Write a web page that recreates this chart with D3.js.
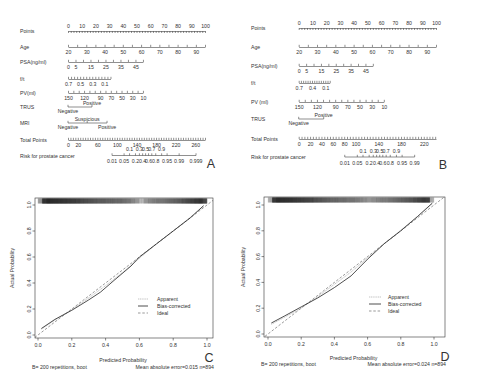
<!DOCTYPE html>
<html><head><meta charset="utf-8">
<script src="https://cdn.jsdelivr.net/npm/d3@7"></script>
<style>
body{margin:0;background:#fff}
svg{display:block}
text{font-family:"Liberation Sans",Arial,sans-serif;fill:#333}
</style>
</head><body>
<svg id="chart" width="492" height="378"></svg>
<script>
// ================= DATA =================
const pointsTicks = [0,2,4,6,8,10,12,14,16,18,20,22,24,26,28,30,32,34,36,38,40,42,44,46,48,50,52,54,56,58,60,62,64,66,68,70,72,74,76,78,80,82,84,86,88,90,92,94,96,98,100];
const pointsLabels = [0,10,20,30,40,50,60,70,80,90,100];
const ageTicks = [20,25,30,35,40,45,50,55,60,65,70,75,80,85,90,95];
const ageLabels = [20,30,40,50,60,70,80,90];
const psaTicks = [0,5,10,15,20,25,30,35,40,45,50];
const psaLabels = [0,5,15,25,35,45];
const frTicks = [0.7,0.65,0.6,0.55,0.5,0.45,0.4,0.35,0.3,0.25,0.2,0.15,0.1,0.05,0];
const frLabelsA = [0.7,0.5,0.3,0.1];
const frLabelsB = [0.7,0.4,0.1];
const pvTicks = [150,140,130,120,110,100,90,80,70,60,50,40,30,20,10];
const pvLabels = [150,120,90,70,50,30,10];
const trusCats = ["Negative","Positive"];
const mriCats = ["Negative","Suspicious","Positive"];
const totalTicksA = d3.range(0, 281, 5);
const totalLabelsA = [0,20,60,100,140,180,220,260];
const totalTicksB = d3.range(0, 241, 5);
const totalLabelsB = [0,20,40,60,80,100,140,180,220];
const riskBelowA = [0.01,0.05,0.2,0.4,0.6,0.8,0.95,0.99,0.999];
const riskBelowB = [0.01,0.05,0.2,0.4,0.6,0.8,0.95,0.99];
const riskAbove = [0.1,0.3,0.5,0.7,0.9];

// Points contributed by each predictor (model A)
const ageRange = [20,95];   const agePtsA = [0,100];
const psaRange = [0,50];    const psaPtsA = [0,54.7];
const frRange = [0.7,0];    const frPtsA = [0,31];
const pvRange = [150,10];   const pvPtsA = [0,54.7];
const trusPtsA = [0,17.5];
const mriPtsA = [0,14,28.5];
const riskLinA = [158.6,14.92]; // total points = a + b*logit(p)
// model B
const agePtsB = [0,100];
const psaPtsB = [0,54];
const frPtsB = [0,22.6];
const pvPtsB = [0,62];
const trusPtsB = [0,18.2];
const riskLinB = [142.5,13.38];

// Calibration curves
const calXC_bias = [0.02,0.1,0.2,0.3,0.37,0.45,0.55,0.6,0.7,0.8,0.9,0.98];
const calYC_bias = [0.05,0.12,0.19,0.27,0.33,0.42,0.53,0.6,0.7,0.8,0.9,0.995];
const calXC_app  = [0.02,0.1,0.2,0.3,0.4,0.5,0.6,0.7,0.8,0.9,0.98];
const calYC_app  = [0.045,0.115,0.195,0.285,0.38,0.48,0.59,0.7,0.8,0.905,0.99];
const calXD_bias = [0.02,0.1,0.2,0.3,0.4,0.5,0.6,0.7,0.8,0.9,0.99];
const calYD_bias = [0.085,0.14,0.21,0.28,0.36,0.45,0.58,0.7,0.8,0.91,1.015];
const calXD_app  = [0.02,0.1,0.2,0.3,0.4,0.5,0.6,0.7,0.8,0.9,0.99];
const calYD_app  = [0.075,0.13,0.2,0.29,0.385,0.48,0.59,0.7,0.805,0.91,1.01];
// rug: counts of predicted probabilities per 0.025 bin
const rugC = [8,26,30,28,27,26,25,24,23,22,20,19,18,17,16,16,15,15,14,14,13,12,10,8,5,8,10,11,12,12,13,14,15,16,18,20,22,24,26,20];
const rugD = [6,24,28,27,26,25,24,23,22,21,20,18,17,16,15,14,14,13,13,12,12,11,10,9,8,9,10,11,11,12,13,14,15,16,17,19,21,23,22,6];
const probTicks = [0,0.2,0.4,0.6,0.8,1.0];
const legendLabels = ["Apparent","Bias-corrected","Ideal"];

// ================= DRAW =================
const svg = d3.select("#chart");
const FS = 5.2;
const LINE = "#444";
const logit = p => Math.log(p/(1-p));

function rowLabel(g, x, y, t){
  g.append("text").attr("x",x).attr("y",y+2).attr("font-size",FS).text(t);
}
function styleAxis(a){
  a.selectAll("path,line").attr("stroke",LINE).attr("stroke-width",0.6);
  a.selectAll("text").attr("font-size",FS).attr("font-family",null).attr("fill","#333");
}
function contAxis(g, y, scale, ticks, labels){
  const ax = d3.axisBottom(scale).tickValues(ticks)
    .tickFormat(d => labels.includes(d) ? String(d) : "")
    .tickSizeInner(-2.2).tickSizeOuter(0).tickPadding(3.6);
  styleAxis(g.append("g").attr("transform",`translate(0,${y})`).call(ax));
}
function catAxis(g, y, xP, pts, cats){
  g.append("line").attr("x1",xP(pts[0])).attr("x2",xP(pts[pts.length-1]))
   .attr("y1",y).attr("y2",y).attr("stroke",LINE).attr("stroke-width",0.6);
  pts.forEach((p,i)=>{
    g.append("line").attr("x1",xP(p)).attr("x2",xP(p)).attr("y1",y).attr("y2",y-2.2)
     .attr("stroke",LINE).attr("stroke-width",0.6);
    const above = i%2===1;
    g.append("text").attr("x",xP(p)).attr("y", above ? y-1.8 : y+5.8)
     .attr("text-anchor","middle").attr("font-size",FS).text(cats[i]);
  });
}
function riskAxis(g, y, xT, lin, below, above){
  const rx = p => xT(lin[0] + lin[1]*logit(p));
  const all = below.concat(above);
  const ext = d3.extent(all);
  g.append("line").attr("x1",rx(ext[0])).attr("x2",rx(ext[1])).attr("y1",y).attr("y2",y)
   .attr("stroke",LINE).attr("stroke-width",0.6);
  all.forEach(p=>{
    g.append("line").attr("x1",rx(p)).attr("x2",rx(p)).attr("y1",y).attr("y2",y-2.2)
     .attr("stroke",LINE).attr("stroke-width",0.6);
  });
  below.forEach(p=> g.append("text").attr("x",rx(p)).attr("y",y+7.6).attr("text-anchor","middle")
     .attr("font-size",FS).text(String(p)));
  above.forEach(p=> g.append("text").attr("x",rx(p)).attr("y",y-4.4).attr("text-anchor","middle")
     .attr("font-size",FS).text(String(p)));
}

function nomogram(cfg){
  const g = svg.append("g");
  const xP = d3.scaleLinear().domain([0,100]).range(cfg.pRange);
  const R = cfg.rows;
  rowLabel(g, cfg.labelX, R.points, "Points");
  const pax = d3.axisTop(xP).tickValues(pointsTicks)
    .tickFormat(d => pointsLabels.includes(d) ? String(d) : "")
    .tickSizeInner(-2).tickSizeOuter(0).tickPadding(3.4);
  styleAxis(g.append("g").attr("transform",`translate(0,${R.points})`).call(pax));
  rowLabel(g, cfg.labelX, R.age, "Age");
  contAxis(g, R.age, d3.scaleLinear().domain(ageRange).range(cfg.agePts.map(xP)), ageTicks, ageLabels);
  rowLabel(g, cfg.labelX, R.psa, "PSA(ng/ml)");
  contAxis(g, R.psa, d3.scaleLinear().domain(psaRange).range(cfg.psaPts.map(xP)), psaTicks, psaLabels);
  rowLabel(g, cfg.labelX, R.fr, "f/t");
  contAxis(g, R.fr, d3.scaleLinear().domain(frRange).range(cfg.frPts.map(xP)), frTicks, cfg.frLabels);
  rowLabel(g, cfg.labelX, R.pv, cfg.pvName);
  contAxis(g, R.pv, d3.scaleLinear().domain(pvRange).range(cfg.pvPts.map(xP)), pvTicks, pvLabels);
  rowLabel(g, cfg.labelX, R.trus, "TRUS");
  catAxis(g, R.trus, xP, cfg.trusPts, trusCats);
  if (cfg.mriPts){
    rowLabel(g, cfg.labelX, R.mri, "MRI");
    catAxis(g, R.mri, xP, cfg.mriPts, mriCats);
  }
  rowLabel(g, cfg.labelX, R.total, "Total Points");
  const xTot = d3.scaleLinear().domain([0,cfg.totalMax]).range(cfg.pRange);
  contAxis(g, R.total, xTot, cfg.totalTicks, cfg.totalLabels);
  rowLabel(g, cfg.labelX, R.risk, "Risk for prostate cancer");
  riskAxis(g, R.risk, xTot, cfg.riskLin, cfg.riskBelow, riskAbove);
  g.append("text").attr("x",cfg.letter[0]).attr("y",cfg.letter[1]).attr("text-anchor","middle")
   .attr("font-size",12.5).attr("fill","#111").text(cfg.letterText);
}

nomogram({pRange:[68,205], totalMax:280, labelX:20,
  rows:{points:31,age:47,psa:62,fr:79,pv:93,trus:107,mri:123,total:140,risk:155.5},
  agePts:agePtsA, psaPts:psaPtsA, frPts:frPtsA, frLabels:frLabelsA, pvPts:pvPtsA, pvName:"PV(ml)",
  trusPts:trusPtsA, mriPts:mriPtsA, totalTicks:totalTicksA, totalLabels:totalLabelsA,
  riskLin:riskLinA, riskBelow:riskBelowA, letter:[211,168], letterText:"A"});
nomogram({pRange:[298.7,436], totalMax:241.5, labelX:251,
  rows:{points:28,age:47,psa:66,fr:83,pv:102,trus:119,total:139,risk:157},
  agePts:agePtsB, psaPts:psaPtsB, frPts:frPtsB, frLabels:frLabelsB, pvPts:pvPtsB, pvName:"PV (ml)",
  trusPts:trusPtsB, mriPts:null, totalTicks:totalTicksB, totalLabels:totalLabelsB,
  riskLin:riskLinB, riskBelow:riskBelowB, letter:[443,169], letterText:"B"});

// ---------- calibration ----------
function calib(cfg){
  const g = svg.append("g");
  const x = d3.scaleLinear().domain([0,1]).range(cfg.xr);
  const y = d3.scaleLinear().domain([0,1]).range(cfg.yr);
  const b = cfg.box;
  const id = "clip"+cfg.letterText;
  g.append("clipPath").attr("id",id).append("rect")
   .attr("x",b.l).attr("y",b.t).attr("width",b.r-b.l).attr("height",b.b-b.t);
  const rg = g.append("g").attr("clip-path",`url(#${id})`);
  cfg.rug.forEach((n,j)=>{
    for(let i=0;i<n;i++){
      const v = (j + (i+0.5)/n)*0.025;
      rg.append("line").attr("x1",x(v)).attr("x2",x(v)).attr("y1",b.t+0.5).attr("y2",b.t+5.5)
        .attr("stroke","#111").attr("stroke-width",0.28);
    }
  });
  const cg = g.append("g").attr("clip-path",`url(#${id})`);
  cg.append("line").attr("x1",x(-0.1)).attr("y1",y(-0.1)).attr("x2",x(1.2)).attr("y2",y(1.2))
    .attr("stroke","#555").attr("stroke-width",0.6).attr("stroke-dasharray","2.5,1.8");
  const line = d3.line().x(d=>x(d[0])).y(d=>y(d[1]));
  cg.append("path").datum(d3.zip(cfg.appX,cfg.appY)).attr("d",line).attr("fill","none")
    .attr("stroke","#aaa").attr("stroke-width",0.7).attr("stroke-dasharray","1.2,0.6");
  cg.append("path").datum(d3.zip(cfg.biasX,cfg.biasY)).attr("d",line).attr("fill","none")
    .attr("stroke","#222").attr("stroke-width",0.8);
  g.append("rect").attr("x",b.l).attr("y",b.t).attr("width",b.r-b.l).attr("height",b.b-b.t)
   .attr("fill","none").attr("stroke","#333").attr("stroke-width",0.6);
  probTicks.forEach(t=>{
    g.append("line").attr("x1",x(t)).attr("x2",x(t)).attr("y1",b.b).attr("y2",b.b+2.5)
     .attr("stroke","#333").attr("stroke-width",0.6);
    g.append("text").attr("x",x(t)).attr("y",b.b+9).attr("text-anchor","middle")
     .attr("font-size",FS).text(d3.format(".1f")(t));
    g.append("line").attr("x1",b.l).attr("x2",b.l-2.5).attr("y1",y(t)).attr("y2",y(t))
     .attr("stroke","#333").attr("stroke-width",0.6);
    g.append("text").attr("transform",`translate(${b.l-6},${y(t)}) rotate(-90)`)
     .attr("text-anchor","middle").attr("dy","0.35em").attr("font-size",FS).text(d3.format(".1f")(t));
  });
  g.append("text").attr("x",(b.l+b.r)/2 - 1).attr("y",cfg.xTitleY).attr("text-anchor","middle")
   .attr("font-size",FS).text("Predicted Probability");
  g.append("text").attr("transform",`translate(${cfg.yTitleX},${(b.t+b.b)/2}) rotate(-90)`)
   .attr("text-anchor","middle").attr("font-size",FS).text("Actual Probability");
  g.append("text").attr("x",b.l-3).attr("y",cfg.footY).attr("font-size",FS).text("B= 200 repetitions, boot");
  g.append("text").attr("x",b.r+1).attr("y",cfg.footY).attr("text-anchor","end").attr("font-size",FS)
   .text(cfg.mae);
  g.append("text").attr("x",cfg.letter[0]).attr("y",cfg.letter[1]).attr("text-anchor","middle")
   .attr("font-size",12.5).attr("fill","#111").text(cfg.letterText);
  const L = cfg.legend;
  const styles = [{s:"#aaa",d:"1.2,0.6",w:0.7},{s:"#222",d:null,w:0.8},{s:"#555",d:"2.5,1.8",w:0.6}];
  legendLabels.forEach((t,i)=>{
    const yy = L.y + i*7;
    g.append("line").attr("x1",L.x1).attr("x2",L.x2).attr("y1",yy).attr("y2",yy)
     .attr("stroke",styles[i].s).attr("stroke-width",styles[i].w).attr("stroke-dasharray",styles[i].d);
    g.append("text").attr("x",L.tx).attr("y",yy+1.8).attr("font-size",FS).text(t);
  });
}

calib({xr:[38,207], yr:[335,205], box:{l:35,r:213,t:198,b:338}, rug:rugC,
  appX:calXC_app, appY:calYC_app, biasX:calXC_bias, biasY:calYC_bias,
  xTitleY:362, yTitleX:14, footY:369, mae:"Mean absolute error=0.015 n=894",
  letter:[209,362], letterText:"C", legend:{x1:138,x2:148,tx:157,y:299}});
calib({xr:[268,434], yr:[334,205], box:{l:264,r:445,t:197,b:337}, rug:rugD,
  appX:calXD_app, appY:calYD_app, biasX:calXD_bias, biasY:calYD_bias,
  xTitleY:360, yTitleX:245, footY:366, mae:"Mean absolute error=0.024 n=894",
  letter:[445,361], letterText:"D", legend:{x1:369,x2:381,tx:388,y:297}});
</script>
</body></html>
